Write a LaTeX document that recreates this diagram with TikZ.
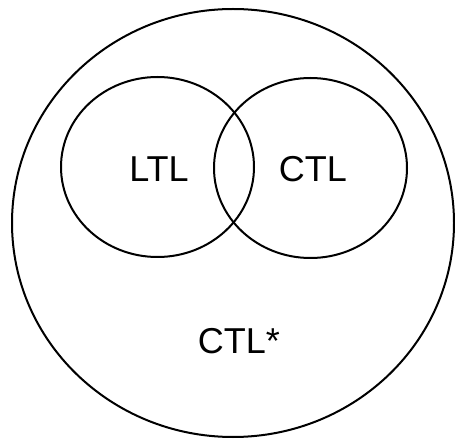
\documentclass[tikz,border=0pt]{standalone}
\usepackage{fontspec}
\setmainfont{Liberation Sans}
\usetikzlibrary{shapes.geometric}
\begin{document}
\begin{tikzpicture}[x=1pt,y=1pt,
  set/.style={draw=black,line width=2pt,ellipse,inner sep=0pt},
  lbl/.style={font=\fontsize{36}{40}\selectfont,inner sep=0pt}]
\useasboundingbox (0,0) rectangle (455,439);
% outer set CTL*
\node[set,minimum width=442pt,minimum height=428pt] (ctlstar) at (233,216) {};
% the two overlapping subsets
\node[set,minimum width=193pt,minimum height=180pt] (ltlset) at (157.5,272) {};
\node[set,minimum width=193pt,minimum height=180pt] (ctlset) at (310.5,271) {};
% labels
\node[lbl] (ltl) at (159,270) {LTL};
\node[lbl] (ctl) at (313,270) {CTL};
\node[lbl] (star) at (239,98) {CTL*};
\end{tikzpicture}
\end{document}
